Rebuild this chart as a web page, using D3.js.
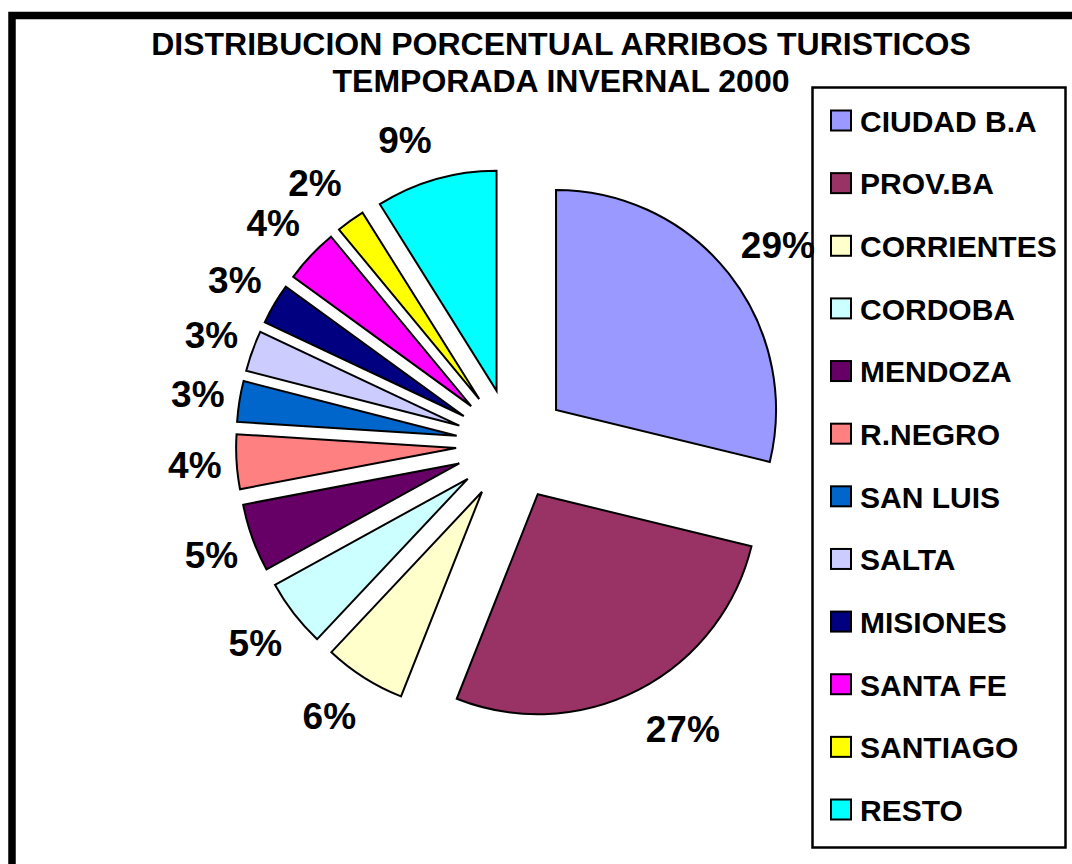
<!DOCTYPE html>
<html>
<head>
<meta charset="utf-8">
<script src="https://cdn.jsdelivr.net/npm/d3@7/dist/d3.min.js"></script>
<style>
  html, body { margin: 0; padding: 0; background: #fff; }
  svg { display: block; }
  text { font-family: "Liberation Sans", Arial, Helvetica, sans-serif; font-weight: bold; fill: #000; }
</style>
</head>
<body>
<svg id="chart" width="1072" height="864"></svg>
<script>
const titleLines = ["DISTRIBUCION PORCENTUAL ARRIBOS TURISTICOS", "TEMPORADA INVERNAL 2000"];
const categories = ["CIUDAD B.A", "PROV.BA", "CORRIENTES", "CORDOBA", "MENDOZA", "R.NEGRO",
                    "SAN LUIS", "SALTA", "MISIONES", "SANTA FE", "SANTIAGO", "RESTO"];
const values = [28.8, 27.2, 6.0, 5.0, 5.0, 4.0, 3.0, 3.0, 3.0, 4.0, 2.1, 8.9];
const colors = ["#9999FF", "#993366", "#FFFFCC", "#CCFFFF", "#660066", "#FF8080",
                "#0066CC", "#CCCCFF", "#000080", "#FF00FF", "#FFFF00", "#00FFFF"];

const svg = d3.select("#chart");

// outer frame
svg.append("rect")
  .attr("x", 12).attr("y", 15.5)
  .attr("width", 1200).attr("height", 1000)
  .attr("fill", "#fff").attr("stroke", "#000").attr("stroke-width", 7.5);

// title
svg.selectAll("text.title").data(titleLines).enter().append("text")
  .attr("class", "title")
  .attr("x", 561)
  .attr("y", (d, i) => 55 + i * 37)
  .attr("text-anchor", "middle")
  .style("font-size", "32px")
  .text(d => d);

// pie
const cx = 512, cy = 444.5, R = 220, explode = 56;
const labelGap = 15, labelHalfH = 25.5;
const total = d3.sum(values);
const pie = d3.pie().sort(null).value(d => d).startAngle(0).endAngle(2 * Math.PI);
const arcs = pie(values);
const arc = d3.arc().innerRadius(0).outerRadius(R);
const color = d3.scaleOrdinal().domain(categories).range(colors);
const clamp1 = v => Math.max(-1, Math.min(1, v));

const g = svg.append("g").attr("transform", `translate(${cx},${cy})`);
const mid = a => (a.startAngle + a.endAngle) / 2;

const slices = g.selectAll("g.slice").data(arcs).enter().append("g")
  .attr("class", "slice")
  .attr("transform", a => {
    const m = mid(a);
    return `translate(${explode * Math.sin(m)},${-explode * Math.cos(m)})`;
  });

slices.append("path")
  .attr("d", arc)
  .attr("fill", (a, i) => color(categories[i]))
  .attr("stroke", "#000")
  .attr("stroke-width", 2)
  .attr("stroke-linejoin", "miter");

slices.append("text")
  .attr("class", "lbl")
  .attr("dy", "0.36em")
  .attr("text-anchor", "middle")
  .style("font-size", "37px")
  .text(a => Math.round(a.value / total * 100 + 1e-9) + "%")
  .each(function (a) {
    const m = mid(a);
    const ux = Math.sin(m), uy = -Math.cos(m);
    const w = this.getComputedTextLength();
    const d = R + labelGap;
    d3.select(this)
      .attr("x", d * ux + clamp1(4 * ux) * w / 2)
      .attr("y", d * uy + clamp1(1.3 * uy) * labelHalfH);
  });

// legend
const lg = svg.append("g");
lg.append("rect")
  .attr("x", 812.5).attr("y", 87.5)
  .attr("width", 253).attr("height", 760)
  .attr("fill", "none").attr("stroke", "#000").attr("stroke-width", 2.5);

const ly = d3.scalePoint().domain(categories).range([121, 810]);
const items = lg.selectAll("g.item").data(categories).enter().append("g")
  .attr("class", "item")
  .attr("transform", d => `translate(0,${ly(d)})`);
items.append("rect")
  .attr("x", 831).attr("y", -10.5)
  .attr("width", 20).attr("height", 20)
  .attr("fill", d => color(d))
  .attr("stroke", "#000").attr("stroke-width", 2);
items.append("text")
  .attr("x", 860).attr("y", 0).attr("dy", "0.36em")
  .style("font-size", "30px")
  .text(d => d);
</script>
</body>
</html>
